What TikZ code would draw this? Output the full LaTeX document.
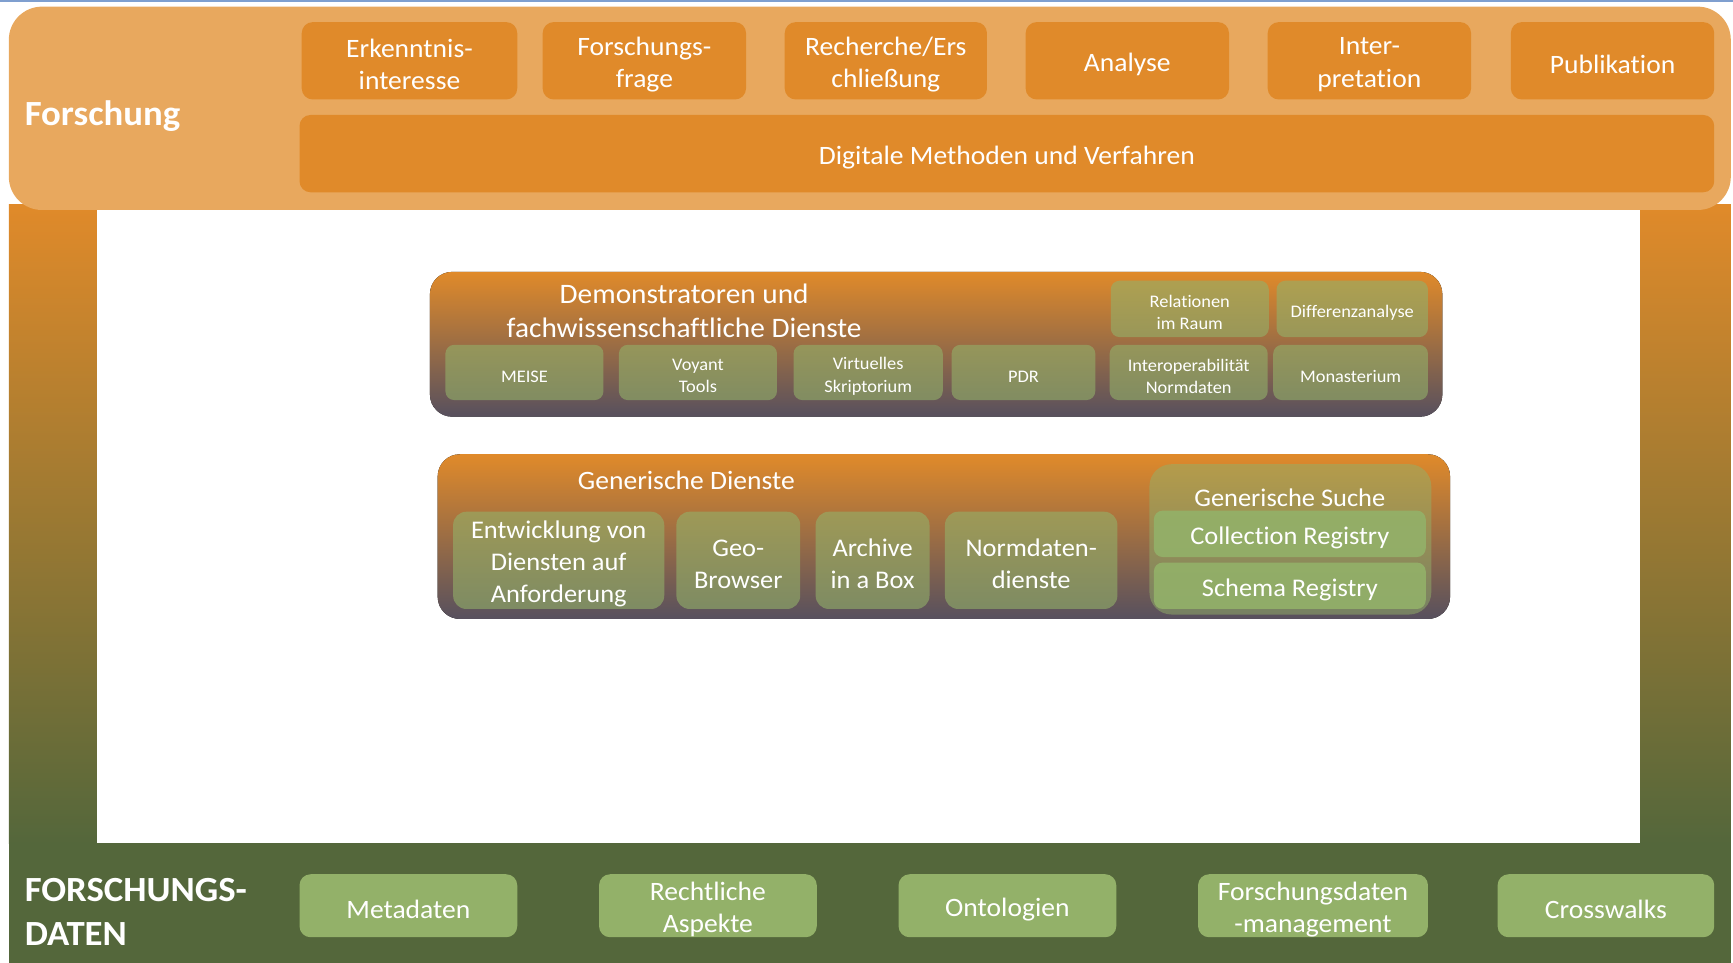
\documentclass[tikz,border=0pt]{standalone}
\usepackage{fontspec}
\setmainfont{Carlito}[FakeStretch=1.04, Ligatures=NoCommon]
\definecolor{forschlight}{HTML}{E8A85E}
\definecolor{forschdark}{HTML}{E08A2A}
\definecolor{datendark}{HTML}{54673B}
\definecolor{datenlight}{HTML}{93B169}
\definecolor{dienstgrau}{HTML}{57505E}
\definecolor{rahmenblau}{HTML}{7F9FCF}
\tikzset{
  orangebox/.style={fill=forschdark, rounded corners=5pt},
  greenbox/.style={fill=datenlight, rounded corners=5pt},
  dienstbox/.style={top color=forschdark, bottom color=dienstgrau, rounded corners=10pt},
  demobox/.style={fill=datenlight, fill opacity=0.6, rounded corners=4pt},
  boxtext/.style={text=white, text opacity=1, align=center, inner sep=0pt, yshift=-1.75pt, font=\fontsize{12}{14.5}\selectfont},
  smalltext/.style={boxtext, font=\fontsize{8}{10}\selectfont},
  midtext/.style={boxtext, font=\fontsize{11.5}{14.5}\selectfont},
  headtext/.style={text=white, align=left, inner sep=0pt, yshift=-1pt, font=\fontsize{16}{20}\selectfont\bfseries},
}
\begin{document}
\begin{tikzpicture}[x=0.5pt, y=-0.5pt]
    \useasboundingbox (0,0) rectangle (1568,871);
    \draw[rahmenblau, line width=1pt] (0,1) -- (1568,1);
    % Rahmen
    \fill[top color=forschdark, bottom color=datendark] (8,185) rectangle (1566,763);
    \fill[white] (88,190) rectangle (1484,763);
    \fill[datendark] (8,763) rectangle (1566,871);
    % Forschung
    \fill[forschlight, rounded corners=15pt] (8,6) rectangle (1566,190);
    \node[headtext, anchor=west] (forschung) at (22,103) {Forschung};
    \fill[orangebox] (273,20) rectangle node[boxtext] (erkenntnis) {Erkenntnis-\\interesse} (468,90);
    \fill[orangebox] (491,20) rectangle node[boxtext] (frage) {Forschungs-\\frage} (675,90);
    \fill[orangebox] (710,20) rectangle node[boxtext] (recherche) {Recherche/Ers\\chließung} (893,90);
    \fill[orangebox] (928,20) rectangle node[boxtext] (analyse) {Analyse} (1112,90);
    \fill[orangebox] (1147,20) rectangle node[boxtext] (interpretation) {Inter-\\pretation} (1331,90);
    \fill[orangebox] (1367,20) rectangle node[boxtext] (publikation) {Publikation} (1551,90);
    \fill[orangebox] (271,104) rectangle node[boxtext] (methoden) {Digitale Methoden und Verfahren} (1551,174);
    % Demonstratoren
    \fill[dienstbox] (389,246) rectangle (1305,377);
    \node[boxtext, font=\fontsize{12.75}{15.5}\selectfont] (demo) at (619,278) {Demonstratoren und\\fachwissenschaftliche Dienste};
    \fill[demobox] (1005,254) rectangle node[smalltext] (relationen) {Relationen\\im Raum} (1148,305);
    \fill[demobox] (1155,254) rectangle node[smalltext] (differenz) {Differenzanalyse} (1292,305);
    \fill[demobox] (403,312) rectangle node[smalltext] (meise) {MEISE} (546,362);
    \fill[demobox] (560,312) rectangle node[smalltext] (voyant) {Voyant\\Tools} (703,362);
    \fill[demobox] (718,312) rectangle node[smalltext] (skriptorium) {Virtuelles\\Skriptorium} (853,362);
    \fill[demobox] (861,312) rectangle node[smalltext] (pdr) {PDR} (991,362);
    \fill[demobox] (1004,312) rectangle node[smalltext] (interop) {Interoperabilität\\Normdaten} (1147,362);
    \fill[demobox] (1152,312) rectangle node[smalltext] (monasterium) {Monasterium} (1292,362);
    % Generische Dienste
    \fill[dienstbox] (396,411) rectangle (1312,560);
    \node[boxtext] (generisch) at (621,431) {Generische Dienste};
    \fill[demobox, rounded corners=6pt] (410,463) rectangle node[midtext] (entwicklung) {Entwicklung von\\Diensten auf\\Anforderung} (601,551);
    \fill[demobox, rounded corners=6pt] (612,463) rectangle node[midtext] (geo) {Geo-\\Browser} (724,551);
    \fill[demobox, rounded corners=6pt] (738,463) rectangle node[midtext] (archive) {Archive\\in a Box} (841,551);
    \fill[demobox, rounded corners=6pt] (855,463) rectangle node[midtext] (normdienste) {Normdaten-\\dienste} (1011,551);
    \fill[demobox, fill opacity=0.5, rounded corners=10pt] (1040,420) rectangle (1295,556);
    \node[midtext] (suche) at (1167,447) {Generische Suche};
    \fill[demobox, fill opacity=0.9] (1044,462) rectangle node[midtext] (collection) {Collection Registry} (1290,504);
    \fill[demobox, fill opacity=0.9] (1044,509) rectangle node[midtext] (schema) {Schema Registry} (1290,551);
    % Forschungsdaten
    \node[headtext, anchor=west] (daten) at (22,823) {FORSCHUNGS-\\DATEN};
    \fill[greenbox] (271,791) rectangle node[boxtext] (metadaten) {Metadaten} (468,848);
    \fill[greenbox] (542,791) rectangle node[boxtext] (recht) {Rechtliche\\Aspekte} (739,848);
    \fill[greenbox] (813,791) rectangle node[boxtext] (ontologien) {Ontologien} (1010,848);
    \fill[greenbox] (1084,791) rectangle node[boxtext] (fdm) {Forschungsdaten\\-management} (1292,848);
    \fill[greenbox] (1355,791) rectangle node[boxtext] (crosswalks) {Crosswalks} (1551,848);
\end{tikzpicture}
\end{document}
